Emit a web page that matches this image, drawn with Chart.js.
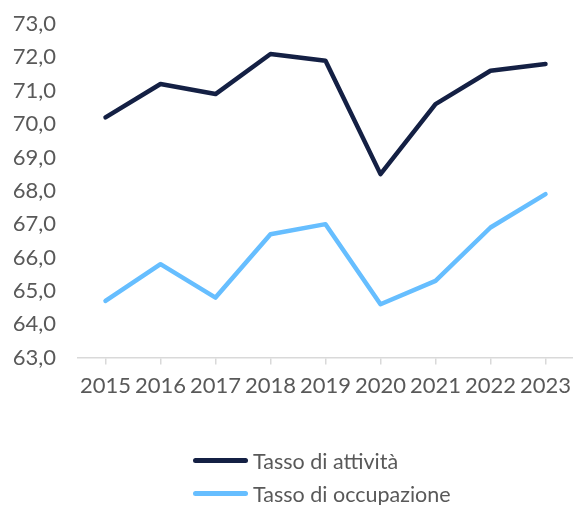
<!DOCTYPE html>
<html lang="it">
<head>
<meta charset="utf-8">
<script src="https://cdn.jsdelivr.net/npm/chart.js@4.4.1/dist/chart.umd.min.js"></script>
<style>
  html, body { margin: 0; padding: 0; background: #fff; }
  #wrap { position: relative; width: 573px; height: 505px; }
  #grafico { position: absolute; left: 0; top: 0; }
  #legenda { position: absolute; left: 193px; top: 444px; font-family: Lato, "Open Sans", sans-serif; font-size: 21.5px; color: #595959; }
  .voce { display: flex; align-items: center; height: 33px; }
  .linea { width: 55px; height: 5px; border-radius: 3px; margin-right: 5px; }
</style>
</head>
<body>
<div id="wrap">
  <canvas id="grafico" width="573" height="505"></canvas>
  <div id="legenda"></div>
</div>
<script>
// Anni e tassi (%)
const anni = ['2015', '2016', '2017', '2018', '2019', '2020', '2021', '2022', '2023'];
const tassoAttivita = [70.2, 71.2, 70.9, 72.1, 71.9, 68.5, 70.6, 71.6, 71.8];
const tassoOccupazione = [64.7, 65.8, 64.8, 66.7, 67.0, 64.6, 65.3, 66.9, 67.9];
const nomiSerie = ['Tasso di attività', 'Tasso di occupazione'];
const coloriSerie = ['#142044', '#66BEFF'];

const graficoCanvas = document.getElementById('grafico');
const legendaElement = document.getElementById('legenda');

const testoGrigio = '#595959';

const grafico = new Chart(graficoCanvas, {
    type: 'line',
    data: {
        labels: anni,
        datasets: [tassoAttivita, tassoOccupazione].map((valori, i) => ({
            label: nomiSerie[i],
            data: valori,
            borderColor: coloriSerie[i],
            backgroundColor: coloriSerie[i],
            borderWidth: 4.5,
            borderJoinStyle: 'round',
            borderCapStyle: 'round',
            pointRadius: 0,
            tension: 0
        }))
    },
    options: {
        responsive: false,
        animation: false,
        layout: {
            autoPadding: false,
            padding: { left: 12, right: 0, top: 24, bottom: 98 }
        },
        scales: {
            x: {
                offset: true,
                grid: {
                    display: true,
                    drawOnChartArea: false,
                    drawTicks: true,
                    tickLength: 7,
                    color: '#d9d9d9',
                    lineWidth: 1.5
                },
                border: { display: true, color: '#d9d9d9', width: 1.5 },
                // l'asse arriva fino al bordo destro
                afterFit: scale => { scale.paddingLeft = 0; scale.paddingRight = 0; },
                ticks: {
                    color: testoGrigio,
                    padding: 8,
                    maxRotation: 0,
                    autoSkip: false,
                    font: { family: 'Lato', size: 22 }
                }
            },
            y: {
                min: 63,
                max: 73,
                grid: { display: false, drawTicks: false },
                border: { display: false },
                afterFit: scale => {
                    scale.width = 66;
                    scale.paddingTop = 0;
                    scale.paddingBottom = 0;
                },
                ticks: {
                    stepSize: 1,
                    color: testoGrigio,
                    padding: 22,
                    font: { family: 'Lato', size: 22 },
                    callback: value => value.toFixed(1).replace('.', ',')
                }
            }
        },
        plugins: {
            legend: { display: false },
            tooltip: { enabled: false }
        }
    }
});

// Legenda verticale sotto il grafico
grafico.data.datasets.forEach(ds => {
    const voce = document.createElement('div');
    voce.className = 'voce';

    const linea = document.createElement('span');
    linea.className = 'linea';
    linea.style.backgroundColor = ds.borderColor;

    voce.appendChild(linea);
    voce.appendChild(document.createTextNode(ds.label));
    legendaElement.appendChild(voce);
});
</script>
</body>
</html>
